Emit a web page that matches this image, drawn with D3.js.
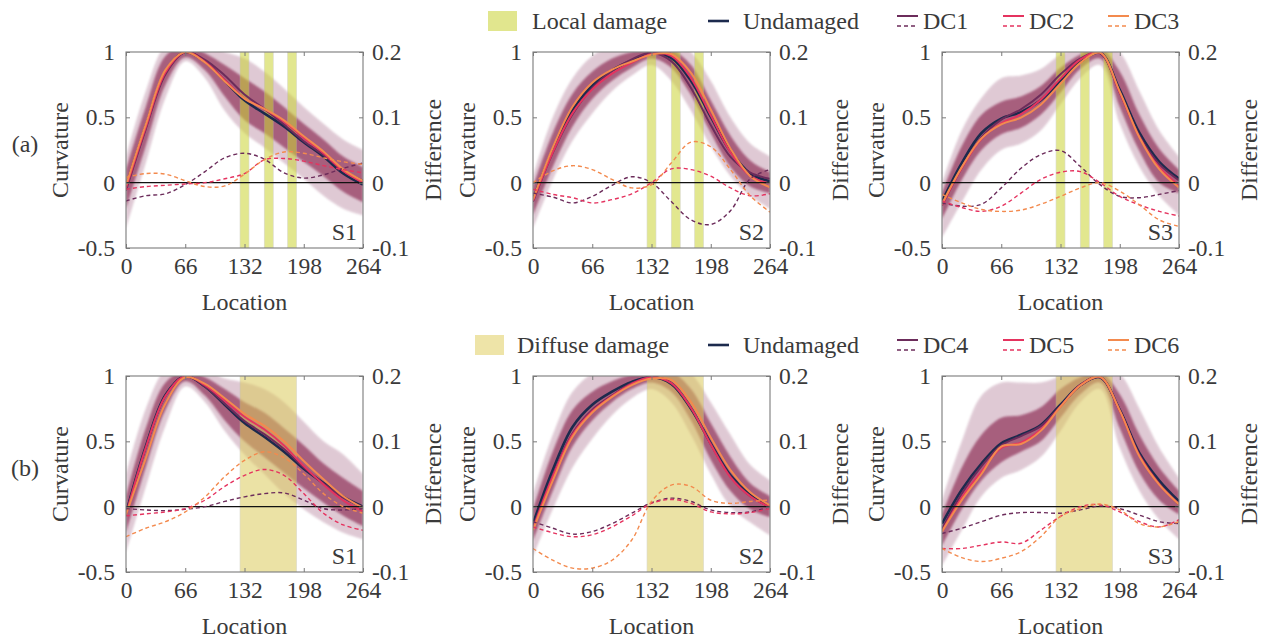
<!DOCTYPE html>
<html>
<head>
<meta charset="utf-8">
<script src="https://cdn.jsdelivr.net/npm/d3@7"></script>
<style>
  body { margin: 0; background: #fff; }
  #chart text { font-family: 'Liberation Serif'; }
</style>
</head>
<body>
<svg id="chart" width="1265" height="638" font-family="Liberation Serif"></svg>
<script>
// ---- sampling locations and axis ticks ----
const locations = [0, 22, 44, 66, 88, 110, 132, 154, 176, 198, 220, 242, 264];
const xTicks = [0, 66, 132, 198, 264];
const curvatureTicks = [-0.5, 0, 0.5, 1];
const differenceTicks = [-0.1, 0, 0.1, 0.2];
const localDamageZones = [[127, 137], [154, 164], [180, 190]];
const diffuseDamageZones = [[127, 190]];
const localLegend = ["Local damage", "Undamaged", "DC1", "DC2", "DC3"];
const diffuseLegend = ["Diffuse damage", "Undamaged", "DC4", "DC5", "DC6"];
const structureNames = ["S1", "S2", "S3"];
const rowTags = ["(a)", "(b)"];

// ---- (a) local damage, S1 ----
const s1LocalUndamaged = [-0.03, 0.43, 0.85, 1.0, 0.925, 0.78, 0.63, 0.53, 0.43, 0.31, 0.2, 0.07, -0.015];
const s1LocalDC1 = [-0.06, 0.41, 0.83, 1.0, 0.94, 0.82, 0.675, 0.565, 0.445, 0.317, 0.212, 0.092, 0.015];
const s1LocalDC2 = [-0.04, 0.424, 0.846, 1.0, 0.925, 0.786, 0.644, 0.565, 0.467, 0.343, 0.226, 0.09, 0.0];
const s1LocalDC3 = [-0.02, 0.444, 0.863, 1.0, 0.92, 0.775, 0.643, 0.565, 0.477, 0.355, 0.238, 0.102, 0.013];
const s1LocalDiff1 = [-0.028, -0.02, -0.017, -0.003, 0.017, 0.038, 0.045, 0.036, 0.015, 0.007, 0.012, 0.022, 0.03];
const s1LocalDiff2 = [-0.01, -0.006, -0.004, -0.002, 0.0, 0.006, 0.014, 0.035, 0.037, 0.033, 0.026, 0.02, 0.015];
const s1LocalDiff3 = [0.008, 0.014, 0.013, 0.003, -0.006, -0.005, 0.013, 0.035, 0.047, 0.045, 0.038, 0.032, 0.028];
const s1LocalOuterHigh = [0.2, 0.7, 1.05, 1.1, 1.05, 1.0, 0.95, 0.85, 0.72, 0.58, 0.45, 0.33, 0.25];
const s1LocalOuterLow = [-0.35, 0.15, 0.65, 0.93, 0.8, 0.55, 0.38, 0.27, 0.15, 0.03, -0.1, -0.2, -0.25];
const s1LocalInnerHigh = [0.1, 0.58, 0.97, 1.05, 0.99, 0.9, 0.8, 0.7, 0.58, 0.45, 0.33, 0.2, 0.12];
const s1LocalInnerLow = [-0.2, 0.28, 0.75, 0.96, 0.86, 0.66, 0.48, 0.38, 0.27, 0.16, 0.05, -0.07, -0.15];

// ---- (a) local damage, S2 ----
const s2LocalUndamaged = [-0.13, 0.25, 0.555, 0.745, 0.86, 0.935, 0.99, 0.955, 0.78, 0.505, 0.24, 0.07, 0.01];
const s2LocalDC1 = [-0.146, 0.228, 0.524, 0.724, 0.856, 0.944, 0.995, 0.93, 0.725, 0.441, 0.197, 0.076, 0.03];
const s2LocalDC2 = [-0.14, 0.232, 0.532, 0.714, 0.834, 0.918, 0.985, 0.97, 0.8, 0.515, 0.232, 0.05, -0.007];
const s2LocalDC3 = [-0.13, 0.268, 0.581, 0.765, 0.865, 0.927, 0.98, 0.985, 0.84, 0.56, 0.26, 0.05, -0.035];
const s2LocalDiff1 = [-0.016, -0.022, -0.031, -0.021, -0.004, 0.009, 0.0, -0.029, -0.057, -0.064, -0.043, 0.006, 0.02];
const s2LocalDiff2 = [-0.01, -0.018, -0.023, -0.031, -0.026, -0.017, 0.0, 0.021, 0.02, 0.01, -0.008, -0.02, -0.017];
const s2LocalDiff3 = [0.0, 0.018, 0.026, 0.02, 0.005, -0.008, -0.003, 0.03, 0.062, 0.055, 0.02, -0.02, -0.045];
const s2LocalOuterHigh = [0.05, 0.5, 0.8, 0.97, 1.05, 1.1, 1.1, 1.1, 1.0, 0.78, 0.5, 0.3, 0.2];
const s2LocalOuterLow = [-0.35, 0.02, 0.32, 0.53, 0.7, 0.82, 0.9, 0.78, 0.55, 0.28, 0.05, -0.1, -0.2];
const s2LocalInnerHigh = [-0.03, 0.38, 0.68, 0.85, 0.95, 1.0, 1.02, 1.02, 0.9, 0.63, 0.36, 0.17, 0.08];
const s2LocalInnerLow = [-0.25, 0.12, 0.43, 0.64, 0.78, 0.88, 0.95, 0.88, 0.67, 0.38, 0.12, -0.03, -0.08];

// ---- (a) local damage, S3 ----
const s3LocalUndamaged = [-0.145, 0.15, 0.38, 0.49, 0.54, 0.63, 0.78, 0.925, 0.995, 0.71, 0.38, 0.16, 0.03];
const s3LocalDC1 = [-0.176, 0.114, 0.347, 0.482, 0.562, 0.673, 0.829, 0.95, 0.992, 0.689, 0.357, 0.142, 0.018];
const s3LocalDC2 = [-0.173, 0.112, 0.336, 0.454, 0.524, 0.635, 0.796, 0.942, 0.995, 0.689, 0.346, 0.116, -0.021];
const s3LocalDC3 = [-0.163, 0.119, 0.339, 0.446, 0.498, 0.597, 0.759, 0.917, 0.995, 0.697, 0.346, 0.103, -0.037];
const s3LocalDiff1 = [-0.031, -0.036, -0.033, -0.008, 0.022, 0.043, 0.049, 0.025, -0.003, -0.021, -0.023, -0.018, -0.012];
const s3LocalDiff2 = [-0.028, -0.038, -0.044, -0.036, -0.016, 0.005, 0.016, 0.017, 0.0, -0.021, -0.034, -0.044, -0.051];
const s3LocalDiff3 = [-0.018, -0.031, -0.041, -0.044, -0.042, -0.033, -0.021, -0.008, 0.0, -0.013, -0.034, -0.057, -0.067];
const s3LocalOuterHigh = [0.0, 0.4, 0.65, 0.8, 0.82, 0.87, 0.98, 1.05, 1.1, 1.0, 0.7, 0.4, 0.2];
const s3LocalOuterLow = [-0.42, -0.15, 0.1, 0.25, 0.3, 0.4, 0.6, 0.8, 0.9, 0.45, 0.12, -0.1, -0.25];
const s3LocalInnerHigh = [-0.08, 0.28, 0.52, 0.62, 0.66, 0.74, 0.88, 0.98, 1.03, 0.85, 0.52, 0.26, 0.1];
const s3LocalInnerLow = [-0.28, 0.02, 0.25, 0.37, 0.42, 0.52, 0.69, 0.87, 0.95, 0.58, 0.24, 0.0, -0.08];

// ---- (b) diffuse damage, S1 ----
const s1DiffuseUndamaged = [-0.05, 0.46, 0.855, 1.0, 0.92, 0.78, 0.64, 0.535, 0.42, 0.29, 0.18, 0.075, 0.0];
const s1DiffuseDC4 = [-0.053, 0.455, 0.849, 1.0, 0.92, 0.788, 0.655, 0.555, 0.441, 0.3, 0.177, 0.07, -0.003];
const s1DiffuseDC5 = [-0.064, 0.449, 0.847, 1.0, 0.93, 0.811, 0.688, 0.592, 0.468, 0.31, 0.17, 0.047, -0.036];
const s1DiffuseDC6 = [-0.06, 0.37, 0.79, 0.99, 0.94, 0.83, 0.71, 0.62, 0.5, 0.35, 0.21, 0.08, -0.01];
const s1DiffuseDiff4 = [-0.003, -0.005, -0.006, -0.004, 0.0, 0.008, 0.015, 0.02, 0.021, 0.01, -0.003, -0.005, -0.003];
const s1DiffuseDiff5 = [-0.014, -0.011, -0.008, -0.003, 0.01, 0.031, 0.048, 0.057, 0.048, 0.02, -0.01, -0.028, -0.036];
const s1DiffuseDiff6 = [-0.046, -0.033, -0.023, -0.008, 0.015, 0.046, 0.071, 0.084, 0.075, 0.05, 0.02, 0.0, -0.01];
const s1DiffuseOuterHigh = [0.25, 0.75, 1.05, 1.1, 1.05, 0.98, 0.95, 0.9, 0.8, 0.65, 0.5, 0.4, 0.25];
const s1DiffuseOuterLow = [-0.35, 0.15, 0.62, 0.92, 0.8, 0.58, 0.4, 0.25, 0.1, -0.02, -0.12, -0.2, -0.25];
const s1DiffuseInnerHigh = [0.08, 0.6, 0.95, 1.04, 0.99, 0.9, 0.8, 0.72, 0.6, 0.47, 0.33, 0.22, 0.12];
const s1DiffuseInnerLow = [-0.2, 0.3, 0.74, 0.96, 0.85, 0.66, 0.5, 0.38, 0.26, 0.14, 0.03, -0.07, -0.15];

// ---- (b) diffuse damage, S2 ----
const s2DiffuseUndamaged = [-0.13, 0.28, 0.61, 0.78, 0.88, 0.955, 0.99, 0.94, 0.75, 0.485, 0.24, 0.09, 0.0];
const s2DiffuseDC4 = [-0.16, 0.24, 0.56, 0.74, 0.85, 0.945, 0.99, 0.95, 0.76, 0.48, 0.23, 0.08, 0.0];
const s2DiffuseDC5 = [-0.17, 0.23, 0.55, 0.73, 0.845, 0.94, 0.99, 0.945, 0.755, 0.475, 0.225, 0.08, -0.005];
const s2DiffuseDC6 = [-0.18, 0.2, 0.535, 0.72, 0.84, 0.93, 0.98, 0.97, 0.8, 0.53, 0.28, 0.11, 0.01];
const s2DiffuseDiff4 = [-0.023, -0.033, -0.042, -0.038, -0.026, -0.01, 0.006, 0.013, 0.008, -0.005, -0.009, -0.008, 0.0];
const s2DiffuseDiff5 = [-0.031, -0.04, -0.046, -0.043, -0.031, -0.014, 0.005, 0.011, 0.005, -0.008, -0.011, -0.009, -0.003];
const s2DiffuseDiff6 = [-0.064, -0.082, -0.094, -0.094, -0.082, -0.051, 0.008, 0.033, 0.031, 0.01, 0.005, 0.008, 0.01];
const s2DiffuseOuterHigh = [0.1, 0.55, 0.88, 1.02, 1.08, 1.1, 1.1, 1.1, 1.02, 0.8, 0.55, 0.32, 0.2];
const s2DiffuseOuterLow = [-0.38, -0.02, 0.3, 0.52, 0.7, 0.83, 0.9, 0.8, 0.55, 0.25, 0.0, -0.12, -0.22];
const s2DiffuseInnerHigh = [-0.02, 0.42, 0.74, 0.88, 0.96, 1.01, 1.03, 1.03, 0.9, 0.64, 0.38, 0.18, 0.08];
const s2DiffuseInnerLow = [-0.26, 0.12, 0.46, 0.66, 0.8, 0.9, 0.95, 0.88, 0.66, 0.36, 0.12, -0.02, -0.08];

// ---- (b) diffuse damage, S3 ----
const s3DiffuseUndamaged = [-0.13, 0.13, 0.33, 0.485, 0.55, 0.625, 0.78, 0.93, 0.99, 0.74, 0.41, 0.2, 0.04];
const s3DiffuseDC4 = [-0.17, 0.1, 0.31, 0.47, 0.54, 0.616, 0.77, 0.925, 0.99, 0.737, 0.397, 0.177, 0.014];
const s3DiffuseDC5 = [-0.19, 0.07, 0.27, 0.45, 0.49, 0.59, 0.765, 0.93, 0.993, 0.732, 0.387, 0.169, 0.02];
const s3DiffuseDC6 = [-0.19, 0.05, 0.25, 0.46, 0.48, 0.58, 0.765, 0.927, 0.994, 0.735, 0.384, 0.169, 0.017];
const s3DiffuseDiff4 = [-0.041, -0.033, -0.023, -0.013, -0.009, -0.009, -0.01, -0.005, 0.001, -0.003, -0.013, -0.023, -0.026];
const s3DiffuseDiff5 = [-0.064, -0.064, -0.059, -0.054, -0.056, -0.036, -0.015, 0.0, 0.003, -0.008, -0.023, -0.031, -0.02];
const s3DiffuseDiff6 = [-0.064, -0.078, -0.084, -0.079, -0.069, -0.046, -0.015, -0.003, 0.004, -0.005, -0.026, -0.031, -0.023];
const s3DiffuseOuterHigh = [0.05, 0.5, 0.85, 0.95, 0.95, 0.95, 1.0, 1.08, 1.1, 1.02, 0.75, 0.45, 0.22];
const s3DiffuseOuterLow = [-0.45, -0.18, 0.08, 0.22, 0.28, 0.38, 0.58, 0.8, 0.9, 0.45, 0.12, -0.1, -0.25];
const s3DiffuseInnerHigh = [-0.06, 0.3, 0.55, 0.68, 0.7, 0.76, 0.9, 0.99, 1.03, 0.86, 0.55, 0.3, 0.12];
const s3DiffuseInnerLow = [-0.3, -0.02, 0.2, 0.34, 0.42, 0.5, 0.68, 0.86, 0.95, 0.6, 0.26, 0.05, -0.06];

// ---- panel table assembled from the arrays above ----
function panel(row, col, zones, undamaged, means, diffs, outerHigh, outerLow, innerHigh, innerLow) {
  return { row, col, zones, undamaged, means, diffs, outerHigh, outerLow, innerHigh, innerLow };
}
const panels = [
  panel(0, 0, localDamageZones, s1LocalUndamaged, [s1LocalDC1, s1LocalDC2, s1LocalDC3], [s1LocalDiff1, s1LocalDiff2, s1LocalDiff3], s1LocalOuterHigh, s1LocalOuterLow, s1LocalInnerHigh, s1LocalInnerLow),
  panel(0, 1, localDamageZones, s2LocalUndamaged, [s2LocalDC1, s2LocalDC2, s2LocalDC3], [s2LocalDiff1, s2LocalDiff2, s2LocalDiff3], s2LocalOuterHigh, s2LocalOuterLow, s2LocalInnerHigh, s2LocalInnerLow),
  panel(0, 2, localDamageZones, s3LocalUndamaged, [s3LocalDC1, s3LocalDC2, s3LocalDC3], [s3LocalDiff1, s3LocalDiff2, s3LocalDiff3], s3LocalOuterHigh, s3LocalOuterLow, s3LocalInnerHigh, s3LocalInnerLow),
  panel(1, 0, diffuseDamageZones, s1DiffuseUndamaged, [s1DiffuseDC4, s1DiffuseDC5, s1DiffuseDC6], [s1DiffuseDiff4, s1DiffuseDiff5, s1DiffuseDiff6], s1DiffuseOuterHigh, s1DiffuseOuterLow, s1DiffuseInnerHigh, s1DiffuseInnerLow),
  panel(1, 1, diffuseDamageZones, s2DiffuseUndamaged, [s2DiffuseDC4, s2DiffuseDC5, s2DiffuseDC6], [s2DiffuseDiff4, s2DiffuseDiff5, s2DiffuseDiff6], s2DiffuseOuterHigh, s2DiffuseOuterLow, s2DiffuseInnerHigh, s2DiffuseInnerLow),
  panel(1, 2, diffuseDamageZones, s3DiffuseUndamaged, [s3DiffuseDC4, s3DiffuseDC5, s3DiffuseDC6], [s3DiffuseDiff4, s3DiffuseDiff5, s3DiffuseDiff6], s3DiffuseOuterHigh, s3DiffuseOuterLow, s3DiffuseInnerHigh, s3DiffuseInnerLow)
];

// ---- styling ----
const textFont = "Liberation Serif";
const textColor = "#3a3a3a";
const undamagedColor = "#1c2a4d";
const caseColors = ["#6c2c5b", "#e5335f", "#f38a4e"];
const zoneFill = ["#cbd435", "#dccb5c"];
const zoneLegendFill = ["#e1e68e", "#eee4a8"];
const frameColor = "#7a7a7a";

// ---- geometry ----
const plotW = 237, plotH = 196;
const colLeft = [126, 533, 942];
const rowTop = [52, 376];
const legendY = [21, 345];

const svg = d3.select("#chart");
const defs = svg.append("defs");
defs.append("filter").attr("id", "soften")
  .attr("x", "-5%").attr("y", "-5%").attr("width", "110%").attr("height", "110%")
  .append("feGaussianBlur").attr("stdDeviation", 1.3);

const smooth = d3.curveCatmullRom.alpha(0.5);

// every text element carries its font both as attribute and inline style
function label(sel, size) {
  return sel.attr("font-family", textFont).attr("font-size", size).attr("fill", textColor)
    .style("font-family", `'${textFont}'`).style("font-size", size + "px");
}

panels.forEach((p, i) => {
  const left = colLeft[p.col], top = rowTop[p.row];
  const x = d3.scaleLinear().domain([0, 264]).range([left, left + plotW]);
  const y = d3.scaleLinear().domain([-0.5, 1]).range([top + plotH, top]);
  const yDiff = d3.scaleLinear().domain([-0.1, 0.2]).range([top + plotH, top]);

  const clipId = "plot-clip-" + i;
  defs.append("clipPath").attr("id", clipId).append("rect")
    .attr("x", left).attr("y", top).attr("width", plotW).attr("height", plotH);

  const g = svg.append("g").attr("clip-path", `url(#${clipId})`);

  // spread of the individual simulated curvature curves
  const band = d3.area()
    .x((d, j) => x(locations[j]))
    .y0(d => y(d[0]))
    .y1(d => y(d[1]))
    .curve(smooth);
  g.append("path").datum(d3.zip(p.outerLow, p.outerHigh)).attr("d", band)
    .attr("fill", "#a86d8b").attr("opacity", 0.36).attr("filter", "url(#soften)");
  g.append("path").datum(d3.zip(p.innerLow, p.innerHigh)).attr("d", band)
    .attr("fill", "#943b60").attr("opacity", 0.74).attr("filter", "url(#soften)");

  // damaged regions
  g.selectAll("rect.zone").data(p.zones).join("rect").attr("class", "zone")
    .attr("x", d => x(d[0])).attr("width", d => x(d[1]) - x(d[0]))
    .attr("y", top).attr("height", plotH)
    .attr("fill", zoneFill[p.row]).attr("opacity", 0.55)
    .attr("stroke", "#b9b9a0").attr("stroke-width", 0.6);

  // mean curvature lines
  const curve = d3.line().x((d, j) => x(locations[j])).y(d => y(d)).curve(smooth);
  g.append("path").datum(p.undamaged).attr("d", curve)
    .attr("fill", "none").attr("stroke", undamagedColor).attr("stroke-width", 2.6);
  p.means.forEach((m, k) => {
    g.append("path").datum(m).attr("d", curve)
      .attr("fill", "none").attr("stroke", caseColors[k]).attr("stroke-width", 2);
  });

  // zero reference line
  g.append("line").attr("x1", left).attr("x2", left + plotW)
    .attr("y1", y(0)).attr("y2", y(0)).attr("stroke", "#111").attr("stroke-width", 1.3);

  // differences to the undamaged state (right axis)
  const diffLine = d3.line().x((d, j) => x(locations[j])).y(d => yDiff(d)).curve(smooth);
  p.diffs.forEach((dv, k) => {
    g.append("path").datum(dv).attr("d", diffLine)
      .attr("fill", "none").attr("stroke", caseColors[k]).attr("stroke-width", 1.4)
      .attr("stroke-dasharray", "4,3");
  });

  // frame
  svg.append("rect").attr("x", left).attr("y", top).attr("width", plotW).attr("height", plotH)
    .attr("fill", "none").attr("stroke", frameColor).attr("stroke-width", 1.1);

  // axes with inward ticks
  const bottomAxis = d3.axisBottom(x).tickValues(xTicks).tickSizeInner(-4).tickSizeOuter(0).tickPadding(9);
  const topAxis = d3.axisTop(x).tickValues(xTicks).tickSizeInner(-4).tickSizeOuter(0).tickFormat("");
  const leftAxis = d3.axisLeft(y).tickValues(curvatureTicks).tickSizeInner(-4).tickSizeOuter(0).tickPadding(11).tickFormat(d => String(d));
  const rightAxis = d3.axisRight(yDiff).tickValues(differenceTicks).tickSizeInner(-4).tickSizeOuter(0).tickPadding(9).tickFormat(d => String(d));

  const styleAxis = sel => {
    sel.attr("font-family", textFont).attr("font-size", 23.5);
    sel.select(".domain").remove();
    sel.selectAll(".tick line").attr("stroke", frameColor);
    sel.selectAll(".tick text").call(label, 23.5);
  };
  svg.append("g").attr("transform", `translate(0,${top + plotH})`).call(bottomAxis).call(styleAxis)
    .selectAll(".tick text").attr("dy", "0.72em");
  svg.append("g").attr("transform", `translate(0,${top})`).call(topAxis).call(styleAxis);
  svg.append("g").attr("transform", `translate(${left},0)`).call(leftAxis).call(styleAxis);
  svg.append("g").attr("transform", `translate(${left + plotW},0)`).call(rightAxis).call(styleAxis);

  // axis titles
  svg.append("text").call(label, 24).attr("x", left + plotW / 2).attr("y", top + plotH + 54)
    .attr("text-anchor", "middle").attr("dominant-baseline", "central").text("Location");
  svg.append("text").call(label, 24).attr("transform", `translate(${left - 66},${top + plotH / 2}) rotate(-90)`)
    .attr("text-anchor", "middle").attr("dominant-baseline", "central").text("Curvature");
  svg.append("text").call(label, 24).attr("transform", `translate(${left + plotW + 70},${top + plotH / 2}) rotate(-90)`)
    .attr("text-anchor", "middle").attr("dominant-baseline", "central").text("Difference");

  // structure tag
  svg.append("text").call(label, 24).attr("x", left + plotW - 6).attr("y", top + plotH - 8)
    .attr("text-anchor", "end").text(structureNames[p.col]);
});

// row tags
rowTags.forEach((t, r) => {
  svg.append("text").call(label, 24).attr("x", 25).attr("y", rowTop[r] + 92)
    .attr("text-anchor", "middle").attr("dominant-baseline", "central").text(t);
});

// legends
[localLegend, diffuseLegend].forEach((labels, r) => {
  const cy = legendY[r];
  const lg = svg.append("g");
  const swatchX = r === 0 ? 488 : 475;
  const swatchTextX = r === 0 ? 532 : 517;
  lg.append("rect").attr("x", swatchX).attr("y", cy - 10).attr("width", 29).attr("height", 20)
    .attr("fill", zoneLegendFill[r]);
  lg.append("text").call(label, 24).attr("x", swatchTextX).attr("y", cy)
    .attr("dominant-baseline", "central").text(labels[0]);

  lg.append("line").attr("x1", 708).attr("x2", 729).attr("y1", cy).attr("y2", cy)
    .attr("stroke", undamagedColor).attr("stroke-width", 2.6);
  lg.append("text").call(label, 24).attr("x", 743).attr("y", cy)
    .attr("dominant-baseline", "central").text(labels[1]);

  const caseX = [897, 1003, 1108];
  caseX.forEach((cx, k) => {
    lg.append("line").attr("x1", cx).attr("x2", cx + 21).attr("y1", cy - 5).attr("y2", cy - 5)
      .attr("stroke", caseColors[k]).attr("stroke-width", 2);
    lg.append("line").attr("x1", cx).attr("x2", cx + 21).attr("y1", cy + 5).attr("y2", cy + 5)
      .attr("stroke", caseColors[k]).attr("stroke-width", 1.3).attr("stroke-dasharray", "4,3");
    lg.append("text").call(label, 24).attr("x", cx + 26).attr("y", cy)
      .attr("dominant-baseline", "central").text(labels[2 + k]);
  });
});
</script>
</body>
</html>
